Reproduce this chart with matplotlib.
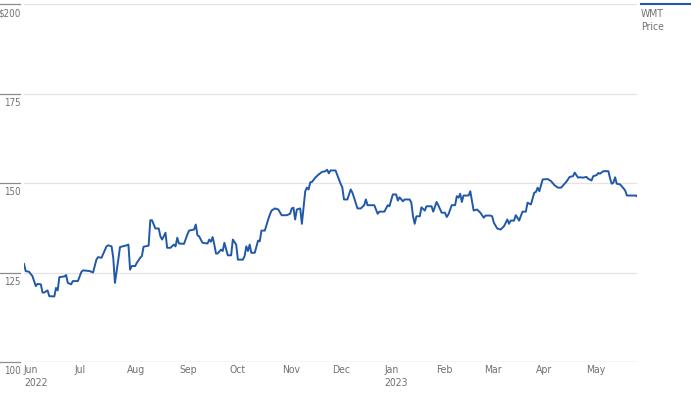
import pandas as pd
import matplotlib
matplotlib.use('Agg')
import matplotlib.pyplot as plt
from matplotlib import font_manager
from matplotlib.lines import Line2D

# WMT daily close, vertices (days after 2022-06-01, price)
start = pd.Timestamp('2022-06-01')
day_offset = [
    0, 1, 3, 5, 7, 8, 10, 11, 12, 14, 15, 18, 19, 20, 21, 24, 25, 26, 28, 29,
    32, 34, 35, 39, 41, 43, 44, 46, 49, 50, 52, 53, 54, 56, 57, 61, 62, 63, 64, 66,
    67, 69, 70, 71, 74, 75, 76, 78, 80, 81, 82, 84, 85, 87, 89, 90, 91, 92, 95, 97,
    98, 101, 102, 103, 104, 106, 109, 110, 111, 112, 113, 114, 115, 117, 118, 119, 121, 123, 124, 126,
    127, 130, 131, 132, 133, 134, 135, 137, 139, 140, 141, 143, 145, 146, 147, 149, 151, 153, 156, 158,
    159, 160, 161, 162, 164, 165, 167, 168, 169, 170, 171, 173, 175, 177, 179, 180, 181, 182, 185, 188,
    189, 190, 192, 194, 195, 196, 198, 200, 202, 203, 204, 208, 210, 211, 214, 216, 217, 219, 221, 222,
    223, 225, 226, 229, 230, 231, 232, 233, 235, 236, 238, 239, 242, 243, 245, 246, 248, 250, 251, 252,
    254, 256, 257, 258, 259, 260, 261, 264, 265, 267, 269, 271, 273, 274, 277, 278, 279, 281, 283, 285,
    287, 288, 289, 291, 292, 293, 294, 296, 298, 299, 301, 303, 304, 305, 306, 308, 311, 313, 315, 317,
    319, 321, 322, 324, 326, 327, 329, 330, 332, 334, 335, 337, 338, 340, 341, 342, 344, 347, 348, 349,
    350, 351, 352, 354, 356, 357, 358, 363, 364, 365,
]
price = [
    127.4, 125.4, 125.2, 124.0, 121.2, 121.8, 121.7, 119.4, 119.4, 120.0, 118.4, 118.3, 120.7, 120.0, 123.7, 123.9, 124.3, 122.1, 121.7, 122.6,
    122.6, 125.1, 125.6, 125.4, 125.0, 128.6, 129.3, 129.1, 132.3, 132.6, 132.3, 129.1, 122.1, 128.6, 132.1, 132.6, 132.8, 125.8, 126.8, 126.8,
    127.7, 129.1, 129.6, 132.2, 132.5, 139.6, 139.6, 137.3, 137.3, 135.1, 134.2, 136.1, 131.9, 131.9, 132.8, 132.3, 134.7, 133.1, 133.0, 135.6,
    136.7, 137.0, 138.4, 135.4, 135.1, 133.3, 133.1, 134.2, 133.6, 134.9, 132.8, 130.3, 130.3, 131.4, 131.0, 133.3, 129.8, 129.8, 134.2, 132.8,
    128.6, 128.6, 129.6, 132.3, 131.0, 132.8, 130.5, 130.5, 133.9, 133.7, 136.7, 136.7, 139.8, 141.2, 142.3, 142.9, 142.6, 141.0, 141.0, 141.4,
    142.9, 143.1, 139.8, 142.6, 142.9, 138.6, 147.7, 148.7, 148.2, 150.2, 150.3, 151.5, 152.4, 153.1, 153.3, 153.7, 152.7, 153.5, 153.5, 149.8,
    148.8, 145.4, 145.4, 148.2, 147.3, 145.9, 142.9, 142.9, 143.8, 145.4, 143.8, 143.8, 141.4, 142.0, 142.0, 143.8, 143.5, 146.8, 146.8, 145.1,
    146.0, 144.9, 145.4, 145.4, 144.5, 140.7, 138.6, 140.7, 140.7, 143.2, 142.3, 143.5, 143.5, 142.0, 144.7, 143.8, 141.7, 141.7, 140.5, 141.2,
    143.8, 143.8, 146.3, 145.9, 147.0, 144.7, 146.5, 146.5, 147.7, 142.3, 142.6, 141.7, 140.3, 140.9, 140.9, 140.7, 138.9, 137.3, 137.0, 137.9,
    139.8, 138.6, 139.5, 139.5, 141.0, 140.3, 139.5, 142.0, 142.0, 144.5, 144.0, 147.3, 147.5, 148.7, 147.7, 151.0, 151.1, 150.5, 149.4, 148.7,
    148.7, 149.8, 150.3, 151.7, 151.9, 152.9, 151.5, 151.6, 151.5, 151.7, 151.2, 150.7, 151.9, 152.2, 152.8, 152.6, 153.3, 153.3, 151.3, 149.8,
    150.1, 151.6, 149.8, 149.6, 148.5, 147.9, 146.5, 146.5, 146.3, 147.4,
]

y_ticks = [100, 125, 150, 175, 200]
y_labels = ['100', '125', '150', '175', '$200']
month_starts = pd.date_range('2022-06-01', '2023-05-01', freq='MS')
month_labels = ['Jun\n2022', 'Jul', 'Aug', 'Sep', 'Oct', 'Nov', 'Dec',
                'Jan\n2023', 'Feb', 'Mar', 'Apr', 'May']


def pick_font():
    # the reference uses a condensed face; take one if the box has it
    fonts = font_manager.fontManager.ttflist
    names = {f.name for f in fonts}
    if 'Liberation Sans Narrow' in names:
        return {'family': 'Liberation Sans Narrow'}, 8, 8
    if any(f.name == 'DejaVu Sans' and f.stretch in ('condensed', 'semi-condensed')
           for f in fonts):
        return {'family': 'DejaVu Sans', 'stretch': 'condensed'}, 7.5, 7
    return {'family': 'Liberation Sans'}, 7.2, 6.5


def main():
    font, fsize, ysize = pick_font()
    plt.rcParams['font.family'] = [font['family'], 'DejaVu Sans']
    if 'stretch' in font:
        plt.rcParams['font.stretch'] = font['stretch']
    line_color = '#2158a8'
    text_color = '#707070'

    dates = start + pd.to_timedelta(day_offset, unit='D')

    fig = plt.figure(figsize=(7.0, 3.93), dpi=100)
    ax = fig.add_axes([24 / 700, 1 - 362 / 393, 613 / 700, 358 / 393])
    ax.plot(dates, price, color=line_color, linewidth=1.4, zorder=3)

    ax.set_ylim(100, 200)
    ax.set_xlim(pd.Timestamp('2022-06-01'), pd.Timestamp('2023-05-31'))

    for spine in ax.spines.values():
        spine.set_visible(False)

    # gridlines and the little tick segments off to the left
    ytrans = ax.get_yaxis_transform()
    for val, lab in zip(y_ticks, y_labels):
        gc = '#b5b5b5' if val == 100 else '#e3e3e3'
        ax.axhline(val, color=gc, linewidth=0.9, zorder=1)
        ax.plot([-24 / 613, -4 / 613], [val, val], transform=ytrans,
                color='#8c8c8c', linewidth=0.9, clip_on=False)
        ax.annotate(lab, xy=(-3 / 613, val), xycoords=ytrans,
                    xytext=(0, -3), textcoords='offset points',
                    ha='right', va='top', fontsize=ysize, color=text_color)
    ax.set_yticks([])

    ax.set_xticks(month_starts)
    ax.set_xticklabels(month_labels, ha='left', fontsize=fsize, color=text_color,
                       linespacing=1.45)
    ax.tick_params(axis='x', length=0, pad=2)

    # legend in the top right corner
    fig.add_artist(Line2D([641 / 700, 690 / 700], [1 - 4 / 393, 1 - 4 / 393],
                          color=line_color, linewidth=1.5))
    fig.text(641 / 700, 1 - 9 / 393, 'WMT\nPrice', ha='left', va='top',
             fontsize=fsize, color=text_color, linespacing=1.4)

    fig.savefig('out.png', dpi=100)


if __name__ == '__main__':
    main()
